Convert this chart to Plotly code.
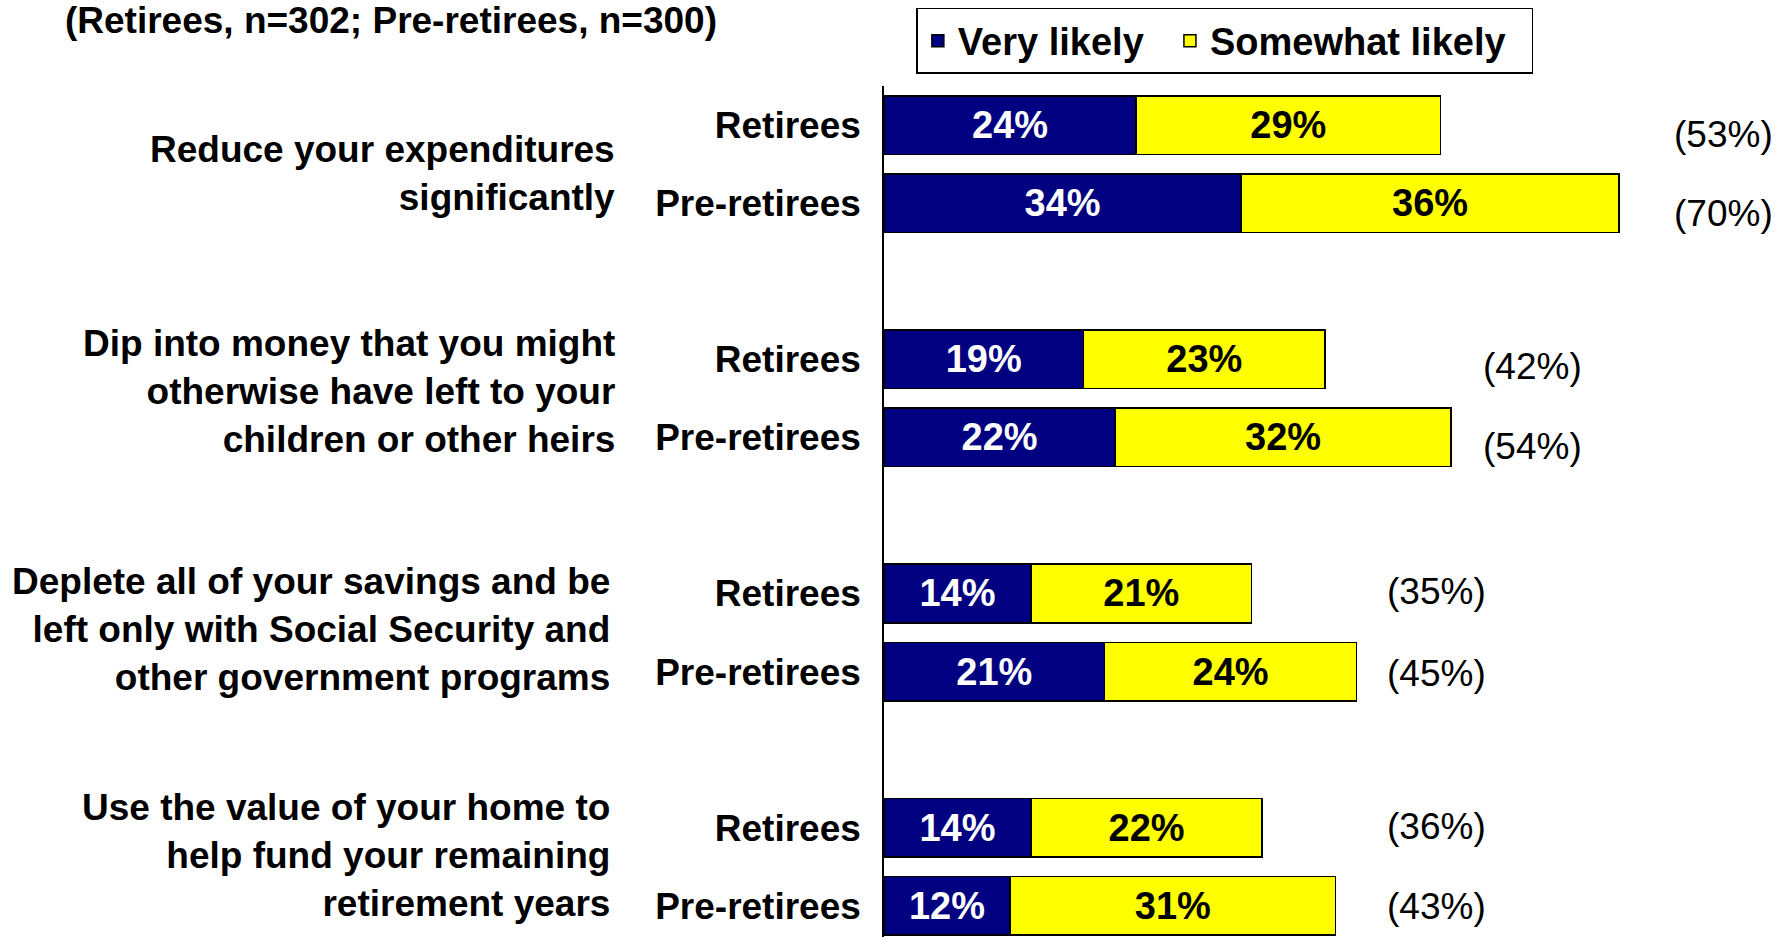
import plotly.graph_objects as go

# survey items (left-hand group labels)
ITEMS = [
    "Reduce your expenditures<br>significantly",
    "Dip into money that you might<br>otherwise have left to your<br>children or other heirs",
    "Deplete all of your savings and be<br>left only with Social Security and<br>other government programs",
    "Use the value of your home to<br>help fund your remaining<br>retirement years",
]
RESPONDENTS = ["Retirees", "Pre-retirees"]

VERY_RETIREES = [24, 19, 14, 14]
VERY_PRE = [34, 22, 21, 12]
SOMEWHAT_RETIREES = [29, 23, 21, 22]
SOMEWHAT_PRE = [36, 32, 24, 31]
TOTAL_RETIREES = [53, 42, 35, 36]
TOTAL_PRE = [70, 54, 45, 43]

SUBTITLE = "(Retirees, n=302; Pre-retirees, n=300)"

NAVY = "#000080"
YELLOW = "#FFFF00"
FONT = "Arial, Liberation Sans, sans-serif"
FS = 37

# each item gets two bar rows plus one blank row
pos, labels, very, somewhat, totals = [], [], [], [], []
for i in range(len(ITEMS)):
    for j, (v, s, t) in enumerate([(VERY_RETIREES[i], SOMEWHAT_RETIREES[i], TOTAL_RETIREES[i]),
                                   (VERY_PRE[i], SOMEWHAT_PRE[i], TOTAL_PRE[i])]):
        pos.append(3 * i + j)
        labels.append(RESPONDENTS[j])
        very.append(v)
        somewhat.append(s)
        totals.append(t)

bar_style = dict(orientation="h", width=0.75, textposition="inside",
                 insidetextanchor="middle", constraintext="none",
                 marker_line=dict(color="black", width=1.5))

NB = "\u00a0"
fig = go.Figure()
fig.add_trace(go.Bar(y=pos, x=very, name="Very likely" + NB * 2, marker_color=NAVY,
                     text=[f"{v}%" for v in very],
                     textfont=dict(family=FONT, size=FS + 1, color="white", weight="bold"),
                     **bar_style))
fig.add_trace(go.Bar(y=pos, x=somewhat, name="Somewhat likely" + NB * 2, marker_color=YELLOW,
                     text=[f"{s}%" for s in somewhat],
                     textfont=dict(family=FONT, size=FS + 1, color="black", weight="bold"),
                     **bar_style))

# totals in brackets, placed to the right of each pair of bars
total_x = [75, 75, 56.8, 56.8, 47.7, 47.7, 47.7, 47.7]
total_dy = [-9, -10, -7, -9, 2, -2, 1, -1]
for y, t, x, dy in zip(pos, totals, total_x, total_dy):
    fig.add_annotation(x=x, y=y, xref="x", yref="y", text=f"({t}%)",
                       xanchor="left", yanchor="middle", showarrow=False, yshift=dy,
                       font=dict(family=FONT, size=FS, color="black"))

# item labels on the far left
item_dx = [-267, -267, -272, -272]
item_dy = [-9, 7, 3, 11]
for i, item in enumerate(ITEMS):
    fig.add_annotation(x=0, y=3 * i + 0.5, xref="paper", yref="y", text=item,
                       xanchor="right", yanchor="middle", align="right",
                       xshift=item_dx[i], yshift=item_dy[i], showarrow=False,
                       font=dict(family=FONT, size=FS, color="black", weight="bold"))

fig.add_annotation(x=0, y=1, xref="paper", yref="paper", text=SUBTITLE,
                   xanchor="left", yanchor="top", xshift=-821, yshift=88,
                   showarrow=False,
                   font=dict(family=FONT, size=FS, color="black", weight="bold"))

fig.update_layout(
    barmode="stack",
    width=1783, height=937,
    margin=dict(l=884, r=0, t=86, b=0),
    plot_bgcolor="white", paper_bgcolor="white",
    showlegend=True,
    legend=dict(orientation="h", x=0.036, y=1.0917, xanchor="left", yanchor="top",
                traceorder="normal", bordercolor="black", borderwidth=1.5,
                bgcolor="white",
                font=dict(family=FONT, size=FS + 1, color="black", weight="bold")),
    xaxis=dict(range=[0, 85.6], visible=False, showgrid=False, zeroline=False),
    yaxis=dict(range=[10.40, -0.5], tickvals=pos, ticktext=labels,
               showline=True, linecolor="black", linewidth=1.5,
               showgrid=False, zeroline=False, ticks="", ticklabelstandoff=14,
               automargin=False,
               tickfont=dict(family=FONT, size=FS, color="black", weight="bold")),
)

fig.write_html("out.html", config={"displayModeBar": False},
               post_script="document.body.style.margin='0';")
